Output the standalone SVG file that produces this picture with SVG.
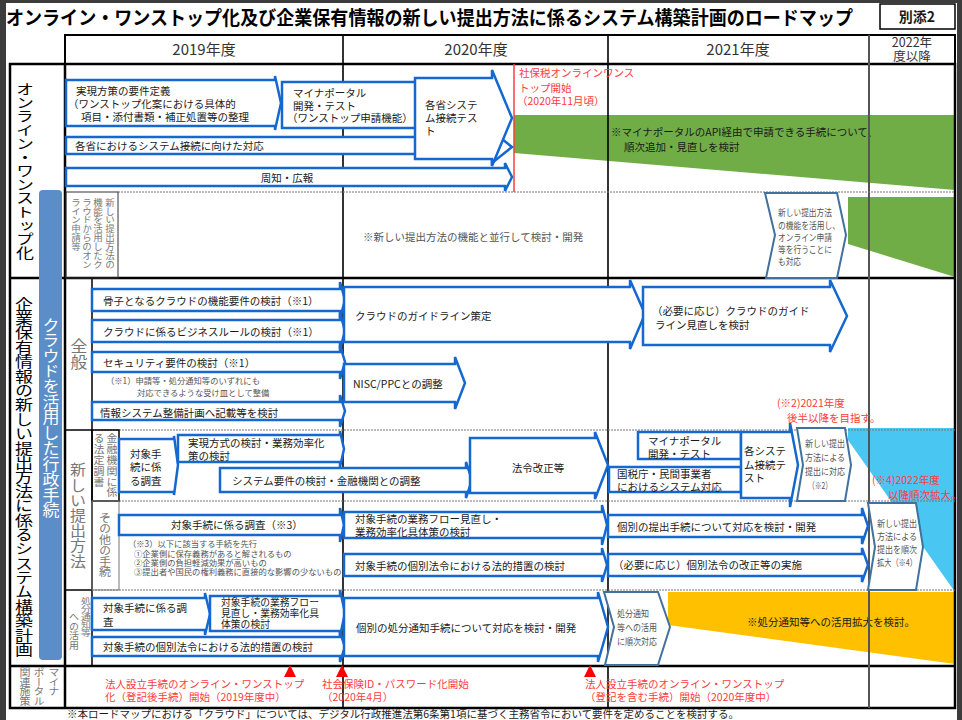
<svg xmlns="http://www.w3.org/2000/svg" width="962" height="720" viewBox="0 0 962 720">
<style>
text{font-family:"Noto Sans CJK JP","Noto Sans CJK SC",sans-serif;font-size:10.5px;fill:#1a1a1a}
.ttl{font-size:19px;font-weight:bold;fill:#000}
.yr{font-size:15px;fill:#333}
.v{writing-mode:vertical-rl}
.g{fill:#777}
.r{fill:#ff3b3b}
.sm{font-size:8.3px;fill:#555}
.cht{font-size:9.5px;fill:#555}
.ar{fill:#fff;stroke:#1468d0;stroke-width:2.5}
.ch{fill:#fff;stroke:#41719c;stroke-width:2}
.ln{stroke:#000;fill:none}
.dl{stroke:#777;stroke-width:1;stroke-dasharray:2 1;fill:none}
</style>
<rect x="0" y="0" width="962" height="720" fill="#fff"/>
<rect x="0" y="0" width="6" height="720" fill="#3c3c3c"/>
<rect x="0" y="0" width="962" height="3" fill="#3c3c3c"/>
<rect x="957" y="0" width="5" height="720" fill="#3c3c3c"/>

<text class="ttl" x="6" y="25" textLength="847" lengthAdjust="spacingAndGlyphs">オンライン・ワンストップ化及び企業保有情報の新しい提出方法に係るシステム構築計画のロードマップ</text>
<g id="annex"><rect x="880" y="4" width="75" height="25" fill="#fff" stroke="#000" stroke-width="1.5"/><text x="917" y="22" text-anchor="middle" style="font-size:14px;font-weight:bold">別添2</text></g>

<!-- background fills -->
<g id="fills">
<polygon points="514,115 955,115 955,190 514,153" fill="#70ad47"/>
<polygon points="848,197 955,197 955,277 848,244" fill="#70ad47"/>
<polygon points="848,428 955,428 955,592 848,440" fill="#4ac6f2"/>
<polygon points="668,592 955,592 955,664 668,625" fill="#ffc000"/>
<text x="611" y="136">※マイナポータルのAPI経由で申請できる手続について、</text>
<text x="624" y="151">順次追加・見直しを検討</text>
<text x="747" y="626">※処分通知等への活用拡大を検討。</text>
</g>

<!-- grid -->
<g id="grid">
<rect x="65" y="35" width="890" height="29" class="ln" stroke-width="2"/>
<rect x="10" y="64" width="945" height="644" class="ln" stroke-width="2.5"/>
<line x1="65" y1="64" x2="65" y2="708" class="ln" stroke-width="2.5"/>
<line x1="10" y1="278" x2="955" y2="278" class="ln" stroke-width="2.5"/>
<line x1="10" y1="666" x2="955" y2="666" class="ln" stroke-width="2.5"/>
<line x1="343" y1="35" x2="343" y2="708" class="ln" stroke-width="1.6"/>
<line x1="608" y1="35" x2="608" y2="708" class="ln" stroke-width="1.6"/>
<line x1="869" y1="35" x2="869" y2="708" stroke="#555" stroke-width="2"/>
<line x1="92" y1="278" x2="92" y2="666" class="ln" stroke-width="1.5"/>
<line x1="65" y1="430" x2="92" y2="430" class="ln" stroke-width="1.5"/>
<line x1="65" y1="590" x2="92" y2="590" class="ln" stroke-width="1.5"/>
<line x1="118" y1="192" x2="955" y2="192" class="dl"/>
<line x1="92" y1="430" x2="955" y2="430" class="dl"/>
<line x1="119" y1="501" x2="955" y2="501" class="dl"/>
<line x1="92" y1="590" x2="955" y2="590" class="dl"/>
<rect x="66" y="192" width="52" height="86" fill="none" stroke="#333" stroke-width="1"/>
<rect x="92" y="430" width="27" height="71" fill="none" stroke="#000" stroke-width="1.5"/>
<rect x="92" y="501" width="27" height="89" fill="none" stroke="#777" stroke-width="1"/>
<line x1="514" y1="64" x2="514" y2="192" stroke="#ff3b3b" stroke-width="1.5"/>
</g>

<!-- headers -->
<g id="years">
<text class="yr" x="204" y="55" text-anchor="middle">2019年度</text>
<text class="yr" x="476" y="55" text-anchor="middle">2020年度</text>
<text class="yr" x="738" y="55" text-anchor="middle">2021年度</text>
<text class="yr" x="912" y="47" text-anchor="middle" style="font-size:12.5px">2022年</text>
<text class="yr" x="912" y="61" text-anchor="middle" style="font-size:12.5px">度以降</text>
</g>

<!-- left labels -->
<g id="labels">
<text class="v" transform="translate(25,82) scale(1,0.76)" style="font-size:18px;fill:#000">オンライン・ワンストップ化</text>
<text class="v" transform="translate(24,297) scale(1,0.8)" style="font-size:18px;fill:#000">企業保有情報の新しい提出方法に係るシステム構築計画</text>
<rect x="39" y="190" width="23" height="470" rx="4" fill="#5b8dc9"/>
<text class="v" transform="translate(51,317) scale(1,0.91)" style="font-size:17px;fill:#fff">クラウドを活用した行政手続</text>
<text class="v g" transform="translate(110,198) scale(1,0.93)" style="font-size:9.5px">新しい提出方法の</text>
<text class="v g" transform="translate(98,198) scale(1,0.93)" style="font-size:9.5px">機能を活用したク</text>
<text class="v g" transform="translate(87,198) scale(1,0.93)" style="font-size:9.5px">ラウドからのオン</text>
<text class="v g" transform="translate(76,198) scale(1,0.93)" style="font-size:9.5px">ライン申請等</text>
<text class="v g" transform="translate(79,338) scale(1,0.94)" style="font-size:17px">全般</text>
<text class="v g" transform="translate(78,462) scale(1,0.95)" style="font-size:16px">新しい提出方法</text>
<text class="v g" transform="translate(112,433) scale(1,0.98)" style="font-size:11px">金融機関に係</text>
<text class="v g" transform="translate(99,433) scale(1,0.98)" style="font-size:11px">る法定調書</text>
<text class="v g" transform="translate(105,513) scale(1,0.9)" style="font-size:12px">その他の手続</text>
<text class="v g" transform="translate(86,597) scale(1,0.8)" style="font-size:10px">処分通知等</text>
<text class="v g" transform="translate(74,612) scale(1,0.95)" style="font-size:10px">への活用</text>
<text class="v g" transform="translate(54,667) scale(1,0.9)" style="font-size:11px">マイナ</text>
<text class="v g" transform="translate(39,667) scale(1,0.9)" style="font-size:11px">ポータル</text>
<text class="v g" transform="translate(25,667) scale(1,0.9)" style="font-size:11px">関連施策</text>
</g>

<!-- connectors / process arrows -->
<g id="arrows">
<path class="ar" d="M66,137 H492 V131 L512,147 L492,163 V154 H66 Z"/>
<path class="ar" d="M66,168 H505 V163 L512,177 L505,191 V186 H66 Z"/>
<path class="ar" d="M66,80 H275 V76 L281,103 L275,130 V126 H66 Z"/>
<path class="ar" d="M282,82 H425 V128 H282 Z"/>
<path class="ar" d="M415,78 H492 V70 L512,118 L492,166 V159 H415 Z"/>
<path class="ch" d="M765,193 L837,193 L846,235 L837,278 L766,278 L775,235 Z"/>

<path class="ar" d="M92,289 H340 V282 L345,300 L340,318 V311 H92 Z"/>
<path class="ar" d="M92,320 H340 V313 L345,331 L340,349 V342 H92 Z"/>
<path class="ar" d="M92,352 H340 V345 L345,362 L340,379 V372 H92 Z"/>
<path class="ar" d="M92,402 H340 V395 L345,411 L340,427 V420 H92 Z"/>
<path class="ar" d="M344,287 H630 V280 L645,314 L630,349 V342 H344 Z"/>
<path class="ar" d="M344,364 H455 V357 L465,383 L455,409 V402 H344 Z"/>
<path class="ar" d="M643,287 H830 V280 L847,316 L830,352 V345 H643 Z"/>

<path class="ar" d="M119,439 H174 V436 L178,465 L174,495 V492 H119 Z"/>
<path class="ar" d="M178,435 H340 V431 L344,449 L340,467 V462 H178 Z"/>
<path class="ar" d="M220,468 H466 V462 L472,480 L466,498 V492 H220 Z"/>
<path class="ar" d="M470,438 H595 V432 L608,465 L595,499 V493 H470 Z"/>
<path class="ar" d="M638,432 H741 V459 H638 Z"/>
<path class="ar" d="M609,467 H741 V492 H609 Z"/>
<path class="ar" d="M741,432 H790 V423 L798,465 L790,507 V498 H741 Z"/>
<path class="ch" d="M797,428 L845,428 L851,465 L845,501 L797,501 L803,465 Z"/>

<path class="ar" d="M119,515 H340 V508 L344,525 L340,542 V535 H119 Z"/>
<path class="ar" d="M344,512 H602 V505 L607,525 L602,545 V538 H344 Z"/>
<path class="ar" d="M344,554 H602 V548 L607,565 L602,582 V576 H344 Z"/>
<path class="ar" d="M608,515 H862 V508 L868,526 L862,544 V537 H608 Z"/>
<path class="ar" d="M608,554 H862 V548 L868,565 L862,582 V576 H608 Z"/>
<path class="ch" d="M868,503 L916,503 L923,547 L916,590 L868,590 L875,547 Z"/>

<path class="ar" d="M92,598 H205 V593 L210,614 L205,635 V630 H92 Z"/>
<path class="ar" d="M210,596 H340 V590 L345,613 L340,636 V631 H210 Z"/>
<path class="ar" d="M92,637 H340 V632 L345,647 L340,662 V656 H92 Z"/>
<path class="ar" d="M344,598 H598 V592 L608,627 L598,662 V656 H344 Z"/>
<path class="ch" d="M604,592 L658,592 L670,627 L658,665 L605,665 L614,627 Z"/>
</g>

<!-- node texts -->
<g id="n-onestop">
<text x="76" y="95">実現方策の要件定義</text>
<text x="68" y="108">（ワンストップ化案における具体的</text>
<text x="81" y="121">項目・添付書類・補正処置等の整理</text>
<text x="293" y="97">マイナポータル</text>
<text x="293" y="110">開発・テスト</text>
<text x="287" y="122">（ワンストップ申請機能）</text>
<text x="425" y="109">各省システ</text>
<text x="425" y="122">ム接続テス</text>
<text x="425" y="135">ト</text>
<text x="75" y="150">各省におけるシステム接続に向けた対応</text>
<text x="287" y="182" text-anchor="middle">周知・広報</text>
<text class="r" x="519" y="77">社保税オンラインワンス</text>
<text class="r" x="519" y="92">トップ開始</text>
<text class="r" x="517" y="105">（2020年11月頃）</text>
<text x="363" y="241" style="fill:#555">※新しい提出方法の機能と並行して検討・開発</text>
<text class="cht" x="778" y="216" textLength="54" lengthAdjust="spacingAndGlyphs">新しい提出方法</text>
<text class="cht" x="778" y="229" textLength="62" lengthAdjust="spacingAndGlyphs">の機能を活用し、</text>
<text class="cht" x="778" y="241" textLength="54" lengthAdjust="spacingAndGlyphs">オンライン申請</text>
<text class="cht" x="778" y="253" textLength="54" lengthAdjust="spacingAndGlyphs">等を行うことに</text>
<text class="cht" x="778" y="265" textLength="23" lengthAdjust="spacingAndGlyphs">も対応</text>
</g>

<g id="n-general">
<text x="103" y="305">骨子となるクラウドの機能要件の検討（※1）</text>
<text x="103" y="336">クラウドに係るビジネスルールの検討（※1）</text>
<text x="103" y="367">セキュリティ要件の検討（※1）</text>
<text class="sm" x="106" y="384">（※1）申請等・処分通知等のいずれにも</text>
<text class="sm" x="137" y="396">対応できるような受け皿として整備</text>
<text x="100" y="417">情報システム整備計画へ記載等を検討</text>
<text x="355" y="320">クラウドのガイドライン策定</text>
<text x="353" y="388">NISC/PPCとの調整</text>
<text x="652" y="315">（必要に応じ）クラウドのガイド</text>
<text x="655" y="329">ライン見直しを検討</text>
<text class="r" x="777" y="407">(※2)2021年度</text>
<text class="r" x="787" y="422">後半以降を目指す。</text>
</g>

<g id="n-newmethod">
<text x="130" y="458">対象手</text>
<text x="130" y="471">続に係</text>
<text x="130" y="485">る調査</text>
<text x="188" y="447">実現方式の検討・業務効率化</text>
<text x="188" y="460">策の検討</text>
<text x="232" y="485">システム要件の検討・金融機関との調整</text>
<text x="538" y="472" text-anchor="middle">法令改正等</text>
<text x="648" y="445">マイナポータル</text>
<text x="648" y="458">開発・テスト</text>
<text x="617" y="478">国税庁・民間事業者</text>
<text x="617" y="491">におけるシステム対応</text>
<text x="744" y="455">各システ</text>
<text x="744" y="469">ム接続テ</text>
<text x="744" y="482">スト</text>
<text class="cht" x="805" y="447" textLength="40" lengthAdjust="spacingAndGlyphs">新しい提出</text>
<text class="cht" x="805" y="461" textLength="40" lengthAdjust="spacingAndGlyphs">方法による</text>
<text class="cht" x="805" y="475" textLength="40" lengthAdjust="spacingAndGlyphs">提出に対応</text>
<text class="cht" x="808" y="489" textLength="24" lengthAdjust="spacingAndGlyphs">（※2）</text>
<text class="r" x="872" y="484">(※4)2022年度</text>
<text class="r" x="888" y="499">以降順次拡大。</text>
<text x="171" y="529">対象手続に係る調査（※3）</text>
<text class="sm" x="128" y="547">（※3）以下に該当する手続を先行</text>
<text class="sm" x="134" y="557">①企業側に保存義務があると解されるもの</text>
<text class="sm" x="134" y="566">②企業側の負担軽減効果が高いもの</text>
<text class="sm" x="134" y="575">③提出者や国民の権利義務に直接的な影響の少ないもの</text>
<text x="355" y="523">対象手続の業務フロー見直し・</text>
<text x="355" y="536">業務効率化具体策の検討</text>
<text x="355" y="570">対象手続の個別法令における法的措置の検討</text>
<text x="617" y="531">個別の提出手続について対応を検討・開発</text>
<text x="613" y="569">（必要に応じ）個別法令の改正等の実施</text>
<text class="cht" x="877" y="527" textLength="40" lengthAdjust="spacingAndGlyphs">新しい提出</text>
<text class="cht" x="877" y="540" textLength="40" lengthAdjust="spacingAndGlyphs">方法による</text>
<text class="cht" x="877" y="553" textLength="40" lengthAdjust="spacingAndGlyphs">提出を順次</text>
<text class="cht" x="877" y="566" textLength="40" lengthAdjust="spacingAndGlyphs">拡大（※4）</text>
</g>

<g id="n-notice">
<text x="103" y="612">対象手続に係る調</text>
<text x="103" y="626">査</text>
<text x="221" y="606" style="font-size:9.8px">対象手続の業務フロー</text>
<text x="221" y="617" style="font-size:9.8px">見直し・業務効率化具</text>
<text x="221" y="628" style="font-size:9.8px">体策の検討</text>
<text x="103" y="651">対象手続の個別法令における法的措置の検討</text>
<text x="356" y="632">個別の処分通知手続について対応を検討・開発</text>
<text class="cht" x="617" y="617" textLength="32" lengthAdjust="spacingAndGlyphs">処分通知</text>
<text class="cht" x="617" y="631" textLength="40" lengthAdjust="spacingAndGlyphs">等への活用</text>
<text class="cht" x="617" y="645" textLength="40" lengthAdjust="spacingAndGlyphs">に順次対応</text>
</g>

<g id="milestones">
<polygon points="290,665 284,677 296,677" fill="#ff0000"/>
<polygon points="342,665 336,677 348,677" fill="#ff0000"/>
<polygon points="590,665 584,677 596,677" fill="#ff0000"/>
<text class="r" x="105" y="688">法人設立手続のオンライン・ワンストップ</text>
<text class="r" x="105" y="701">化（登記後手続）開始（2019年度中）</text>
<text class="r" x="322" y="688">社会保険ID・パスワード化開始</text>
<text class="r" x="322" y="701">（2020年4月）</text>
<text class="r" x="585" y="688">法人設立手続のオンライン・ワンストップ</text>
<text class="r" x="585" y="701">（登記を含む手続）開始（2020年度中）</text>
</g>

<text x="67" y="718" style="font-size:10.5px">※本ロードマップにおける「クラウド」については、デジタル行政推進法第6条第1項に基づく主務省令において要件を定めることを検討する。</text>
</svg>
